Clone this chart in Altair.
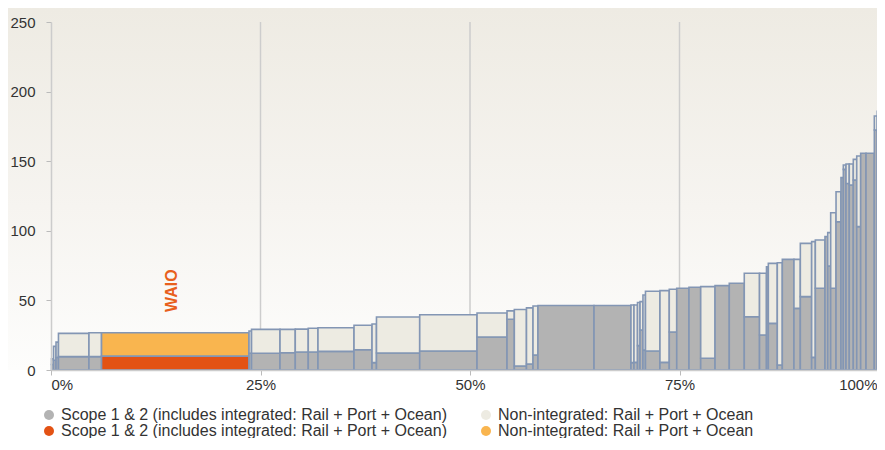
import altair as alt
import pandas as pd

# Cumulative share boundaries of each bar (% of supply)
BOUNDS = [0.06, 0.30, 0.60, 0.89, 4.53, 6.03, 23.63, 23.93, 27.33, 29.15, 30.70,
          31.86, 36.16, 38.31, 38.84, 44.00, 50.84, 54.42, 55.29, 56.74, 57.52,
          58.11, 64.80, 69.21, 69.57, 69.99, 70.29, 70.64, 70.94, 72.67, 73.78,
          74.67, 76.13, 77.53, 79.24, 80.94, 82.73, 84.55, 85.38, 85.60, 86.67,
          87.27, 88.66, 89.42, 90.77, 91.21, 92.36, 92.69, 93.04, 93.68, 94.27,
          94.55, 94.87, 95.26, 95.74, 96.15, 96.62, 97.26, 98.25, 98.60, 99.44, 100.0]

# Scope 1 & 2 intensity (bottom segment)
SCOPE = [4, 7, 9, 9.6, 9.6, 10, 12, 12, 12.4, 12.9, 12.9, 13.4, 14.6, 5.3, 12.2,
         13.6, 23.7, 36.5, 2.9, 4.3, 10.8, 46.3, 46.3, 5.3, 5.5, 17.5, 28.7, 14.4,
         13.6, 5.5, 27.3, 58.7, 59.4, 8.4, 60.6, 62.3, 38.3, 25.1, 74.2, 33.5, 3.6,
         79.5, 44.3, 52.7, 9.1, 58.7, 95.8, 74.7, 58.7, 106.5, 138.2, 144.1, 134,
         132.9, 136.5, 103, 155.7, 155.7, 172.4, 171.2, 215]

# Total intensity (top of the non-integrated segment)
TOTAL = [8, 17, 20, 26.3, 26.8, 26.8, 28, 29.2, 29.2, 29.4, 30, 30.4, 32.1, 33,
         38.1, 39.7, 41, 42.5, 43.5, 44.6, 46, 46.3, 46.3, 46.7, 46.7, 48.5, 49.1,
         53.9, 56.6, 57, 58, 58.7, 59.4, 59.9, 60.6, 62.3, 69.5, 69.5, 74.2, 76.6,
         77.1, 79.5, 79.5, 91, 92.2, 93.4, 95.8, 98.7, 113, 128.1, 138.2, 147.3,
         148, 148, 151.3, 153.7, 155.7, 155.7, 182.5, 185.8, 226]

HIGHLIGHT_INDEX = 5          # WAIO
HIGHLIGHT_NAME = "WAIO"
HIGHLIGHT_LABEL_Y = 57

X_TICKS = [0, 25, 50, 75, 100]
Y_TICKS = [0, 50, 100, 150, 200, 250]
GRID_X = [25, 50, 75]

CATS = ["s", "n", "ws", "wn"]
CAT_COLORS = ["#b3b3b3", "#edebe2", "#e35214", "#f9b54f"]
SCOPE_LABEL = "Scope 1 & 2 (includes integrated: Rail + Port + Ocean)"
NONINT_LABEL = "Non-integrated: Rail + Port + Ocean"

rows = []
for i in range(len(SCOPE)):
    hl = i == HIGHLIGHT_INDEX
    x0, x1 = BOUNDS[i], BOUNDS[i + 1]
    rows.append({"x0": x0, "x1": x1, "y0": 0, "y1": SCOPE[i],
                 "cat": "ws" if hl else "s"})
    if TOTAL[i] > SCOPE[i]:
        rows.append({"x0": x0, "x1": x1, "y0": SCOPE[i], "y1": TOTAL[i],
                     "cat": "wn" if hl else "n"})
df = pd.DataFrame(rows)

PAD_L, PAD_T = 43, 14
SVG_W, SVG_H = 869, 430
W, H = SVG_W - PAD_L, 348
XR = 838
FONT = "Liberation Sans"

xscale = alt.Scale(domain=[0, 100], range=[0, XR], nice=False, zero=False)
yscale = alt.Scale(domain=[0, 250], nice=False)

XAXIS = alt.Axis(values=X_TICKS, labelExpr="datum.value + '%'", title=None,
                 grid=False, domainColor="#cccccc", domainWidth=1.5,
                 tickColor="#bbbbbb", tickSize=5, labelPadding=2,
                 labelOffset={"condition": {"test": "datum.value == 100",
                                            "value": -12}, "value": 0},
                 labelFontSize=15, labelFont=FONT, labelColor="#333333",
                 zindex=1)
YAXIS = alt.Axis(values=Y_TICKS, title=None, grid=False, domainColor="#cccccc",
                 domainWidth=1.5, tickColor="#bbbbbb", tickSize=5,
                 labelPadding=11, labelFontSize=15, labelFont=FONT,
                 labelColor="#333333", zindex=1)

grad = alt.LinearGradient(
    gradient="linear", x1=0, y1=0, x2=0, y2=1,
    stops=[alt.GradientStop(color="#eeebe3", offset=0),
           alt.GradientStop(color="#f6f4f0", offset=0.55),
           alt.GradientStop(color="#fdfdfc", offset=1)])

bg = alt.Chart(pd.DataFrame({"a": [0]})).mark_rect(fill=grad).encode(
    x=alt.value(-PAD_L), x2=alt.value(XR), y=alt.value(-PAD_T), y2=alt.value(H))

grid = alt.Chart(pd.DataFrame({"v": GRID_X})).mark_rule(
    color="#cdcdcd", strokeWidth=1.5).encode(
    x=alt.X("v:Q", scale=xscale, axis=XAXIS),
    y=alt.value(0), y2=alt.value(H))

label_expr = ("indexof(['s','ws'], datum.value) >= 0 ? '%s' : '%s'"
              % (SCOPE_LABEL, NONINT_LABEL))

bars = alt.Chart(df).mark_rect(stroke="#8396b4", strokeWidth=1.6).encode(
    x=alt.X("x0:Q", scale=xscale, axis=XAXIS),
    x2="x1:Q",
    y=alt.Y("y0:Q", scale=yscale, axis=YAXIS),
    y2="y1:Q",
    color=alt.Color("cat:N", scale=alt.Scale(domain=CATS, range=CAT_COLORS),
                    legend=alt.Legend(orient="none", legendX=-10, legendY=385,
                                      columns=2, direction="horizontal",
                                      symbolType="circle", symbolSize=100,
                                      symbolStrokeWidth=0, labelFontSize=16,
                                      labelFont=FONT, labelColor="#333333",
                                      labelOffset=4, columnPadding=31,
                                      rowPadding=-1, padding=0, title=None,
                                      labelLimit=600, labelExpr=label_expr)),
)

lab = alt.Chart(pd.DataFrame({
    "x": [(BOUNDS[HIGHLIGHT_INDEX] + BOUNDS[HIGHLIGHT_INDEX + 1]) / 2],
    "y": [HIGHLIGHT_LABEL_Y], "t": [HIGHLIGHT_NAME]})).mark_text(
    angle=270, font=FONT, fontSize=16, fontWeight="bold", color="#e8601c",
    align="center", baseline="middle", dy=-3).encode(
    x=alt.X("x:Q", scale=xscale, axis=XAXIS),
    y=alt.Y("y:Q", scale=yscale, axis=YAXIS),
    text="t:N")

chart = alt.layer(bg, grid, bars, lab).properties(
    width=W, height=H,
    autosize=alt.AutoSizeParams(type="none"),
    padding={"left": PAD_L, "top": PAD_T, "right": 0,
             "bottom": SVG_H - PAD_T - H},
).configure_view(stroke=None).configure(font=FONT, background="#ffffff")

chart.save("out.html", embed_options={"renderer": "svg", "actions": False})
